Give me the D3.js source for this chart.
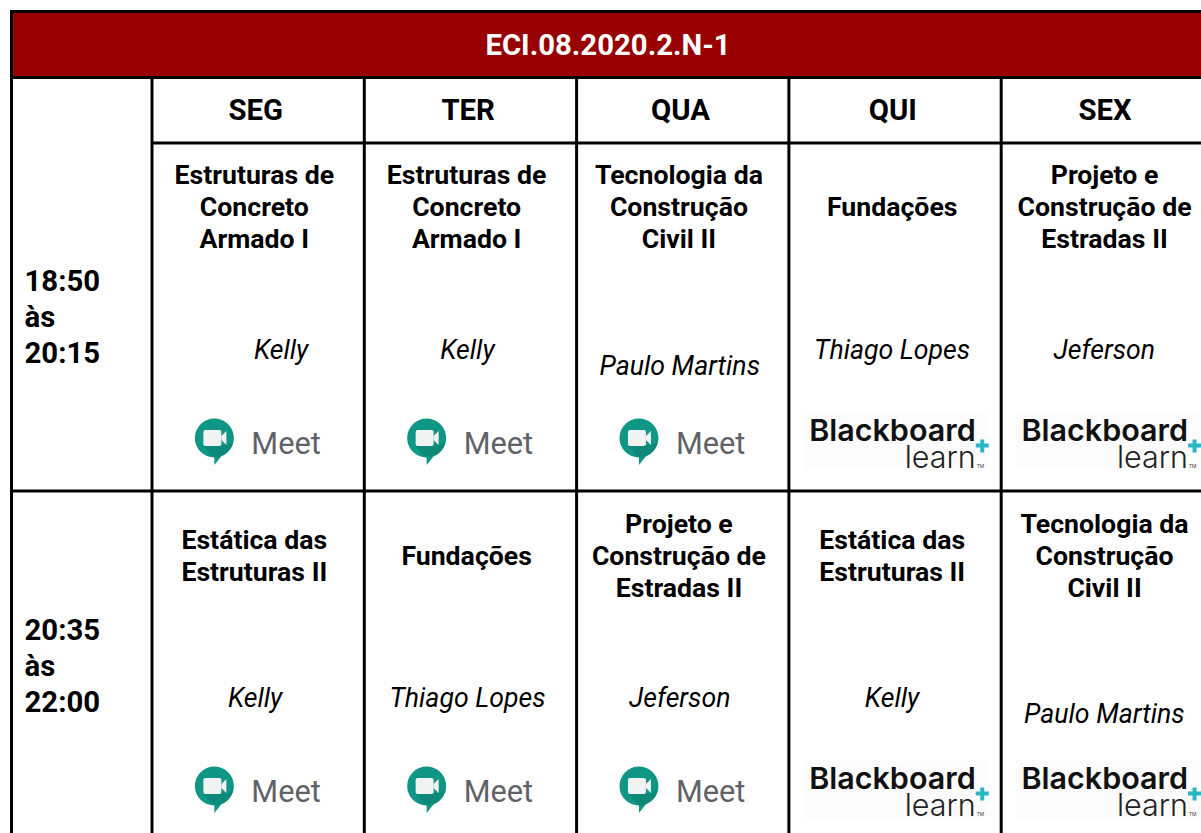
<!DOCTYPE html>
<html>
<head>
<meta charset="UTF-8">
<title>ECI.08.2020.2.N-1</title>
<style>
    html, body { margin: 0; padding: 0; background: #fff; overflow: hidden; }
    svg { display: block; font-family: Roboto, sans-serif; }
    .grid { stroke: #000; stroke-width: 3px; fill: none; }
    .subject { font-weight: 700; font-size: 26.67px; text-anchor: middle; fill: #000; }
    .teacher { font-style: italic; font-size: 26.67px; text-anchor: middle; fill: #000; }
    .day { font-weight: 700; font-size: 29.33px; text-anchor: middle; fill: #000; }
    .time { font-weight: 700; font-size: 29.33px; fill: #000; }
</style>
</head>
<body>
<script src="https://d3js.org/d3.v7.min.js"></script>
<script>
var title = "ECI.08.2020.2.N-1";
var days = ["SEG", "TER", "QUA", "QUI", "SEX"];
var slots = [["18:50", "às", "20:15"], ["20:35", "às", "22:00"]];

var subjects = [
    [["Estruturas de", "Concreto", "Armado I"], ["Estruturas de", "Concreto", "Armado I"], ["Tecnologia da", "Construção", "Civil II"], ["", "Fundações"], ["Projeto e", "Construção de", "Estradas II"]],
    [["Estática das", "Estruturas II"], ["Fundações"], ["Projeto e", "Construção de", "Estradas II"], ["Estática das", "Estruturas II"], ["Tecnologia da", "Construção", "Civil II"]]
];
var teachers = [
    ["Kelly", "Kelly", "Paulo Martins", "Thiago Lopes", "Jeferson"],
    ["Kelly", "Thiago Lopes", "Jeferson", "Kelly", "Paulo Martins"]
];
var platforms = [
    ["Meet", "Meet", "Meet", "Blackboard", "Blackboard"],
    ["Meet", "Meet", "Meet", "Blackboard", "Blackboard"]
];

var width = 1201, height = 833;
var svg = d3.select("body").append("svg").attr("width", width).attr("height", height);

// column edges and row tops of the table
var x = d3.scaleBand().domain(days).range([152, 1213.5]);
var y = d3.scaleBand().domain([0, 1]).range([143.5, 839.5]);

// title bar
svg.append("rect").attr("x", 11.5).attr("y", 11.5).attr("width", width).attr("height", 66).attr("fill", "#980000");
svg.append("text").attr("x", 608).attr("y", 45).attr("dy", "0.35em")
    .attr("text-anchor", "middle").attr("fill", "#fff")
    .style("font-weight", 700).style("font-size", "29.33px").text(title);

// grid lines
var grid = svg.append("g").attr("class", "grid");
grid.append("path").attr("d", "M" + (width + 5) + ",11.5H11.5V" + (height + 5));
grid.append("path").attr("d", "M11.5,77.5H" + (width + 5));
days.forEach(function (d) {
    grid.append("line").attr("x1", x(d)).attr("x2", x(d)).attr("y1", 77.5).attr("y2", height + 5);
    grid.append("line").attr("x1", x(d)).attr("x2", x(d) + x.step()).attr("y1", 143).attr("y2", 143);
});
y.domain().forEach(function (r) {
    if (r > 0) grid.append("line").attr("x1", 11.5).attr("x2", width + 5).attr("y1", y(r) - 0.5).attr("y2", y(r) - 0.5);
});

// cell text sits a little left of the true cell centre
function centre(d) { return x(d) + x.bandwidth() / 2 - 2.3; }

// day headers
svg.selectAll(".day").data(days).join("text").attr("class", "day")
    .attr("x", centre)
    .attr("y", 110).attr("dy", "0.35em").text(function (d) { return d; });

// time labels
slots.forEach(function (lines, r) {
    svg.selectAll(".time" + r).data(lines).join("text").attr("class", "time time" + r)
        .attr("x", 24.5)
        .attr("y", function (d, i) { return y(r) + 137.5 + r + i * 36; })
        .attr("dy", "0.35em").text(function (d) { return d; });
});

function drawMeet(g, cx, top) {
    var ix = cx - 42, iy = top + 21;
    var icon = g.append("g").attr("transform", "translate(" + ix + "," + iy + ")");
    icon.append("path").attr("fill", "#0f9685")
        .attr("d", "M0,-19.5A19.5,19.5 0 0 1 7,18.2L0,27V19.5A19.5,19.5 0 0 1 0,-19.5Z");
    icon.append("path").attr("fill", "#0b8072").attr("opacity", 0.6)
        .attr("d", "M-11,8L0,19.5A19.5,19.5 0 0 0 19,4L12,7Z");
    icon.append("rect").attr("x", -11).attr("y", -8).attr("width", 18).attr("height", 16).attr("rx", 2).attr("fill", "#f1f3f3");
    icon.append("path").attr("fill", "#f1f3f3").attr("d", "M7,-2L12,-7V7L7,2Z");
    g.append("text").attr("x", cx - 5).attr("y", top + 36.5).attr("fill", "#5f6368")
        .style("font-size", "30.7px").style("font-family", "Roboto, sans-serif").text("Meet");
}

function drawBlackboard(g, cx, top) {
    g.append("rect").attr("x", cx - 88).attr("y", top - 3).attr("width", 184).attr("height", 56).attr("fill", "#fcfcfc");
    g.append("text").attr("x", cx + 84).attr("y", top + 24).attr("text-anchor", "end").attr("fill", "#111")
        .style("font-family", "Inter, sans-serif").style("font-weight", 600).style("font-size", "30.5px").text("Blackboard");
    g.append("text").attr("x", cx + 84).attr("y", top + 51).attr("text-anchor", "end").attr("fill", "#222")
        .style("font-family", "Inter, sans-serif").style("font-weight", 300).style("font-size", "30.5px").text("learn");
    g.append("path").attr("stroke", "#2ab7c4").attr("stroke-width", 4).attr("fill", "none")
        .attr("d", "M" + (cx + 84) + "," + (top + 29) + "h13M" + (cx + 90.5) + "," + (top + 23) + "v13");
    g.append("text").attr("x", cx + 85).attr("y", top + 51).attr("fill", "#444")
        .style("font-size", "5px").text("TM");
}

// cells
subjects.forEach(function (row, r) {
    row.forEach(function (lines, c) {
        var cx = centre(days[c]);
        var top = y(r);
        var g = svg.append("g");
        var three = lines.length === 3;
        var first = (r === 0 || three) ? top + 31.5 + r : top + 48.5;
        if (r === 1 && !three && lines.length === 1) first = top + 64.5;
        g.selectAll(".subject").data(lines).join("text").attr("class", "subject")
            .attr("x", cx - (c < 3 ? 1.5 : 0.5))
            .attr("y", function (d, i) { return first + i * 32; })
            .attr("dy", "0.35em").text(function (d) { return d; });

        var dx = (r === 0 && c === 0) ? 26 : 0;
        var dy = teachers[r][c] === "Paulo Martins" ? 16 : 0;
        g.append("text").attr("class", "teacher")
            .attr("x", cx + dx - 0.7).attr("y", top + 206 + dy)
            .attr("dy", "0.35em").text(teachers[r][c]);

        if (platforms[r][c] === "Meet") drawMeet(g, cx + 0.5, top + 273.5);
        else drawBlackboard(g, cx - 1, top + 273);
    });
});
</script>
</body>
</html>
